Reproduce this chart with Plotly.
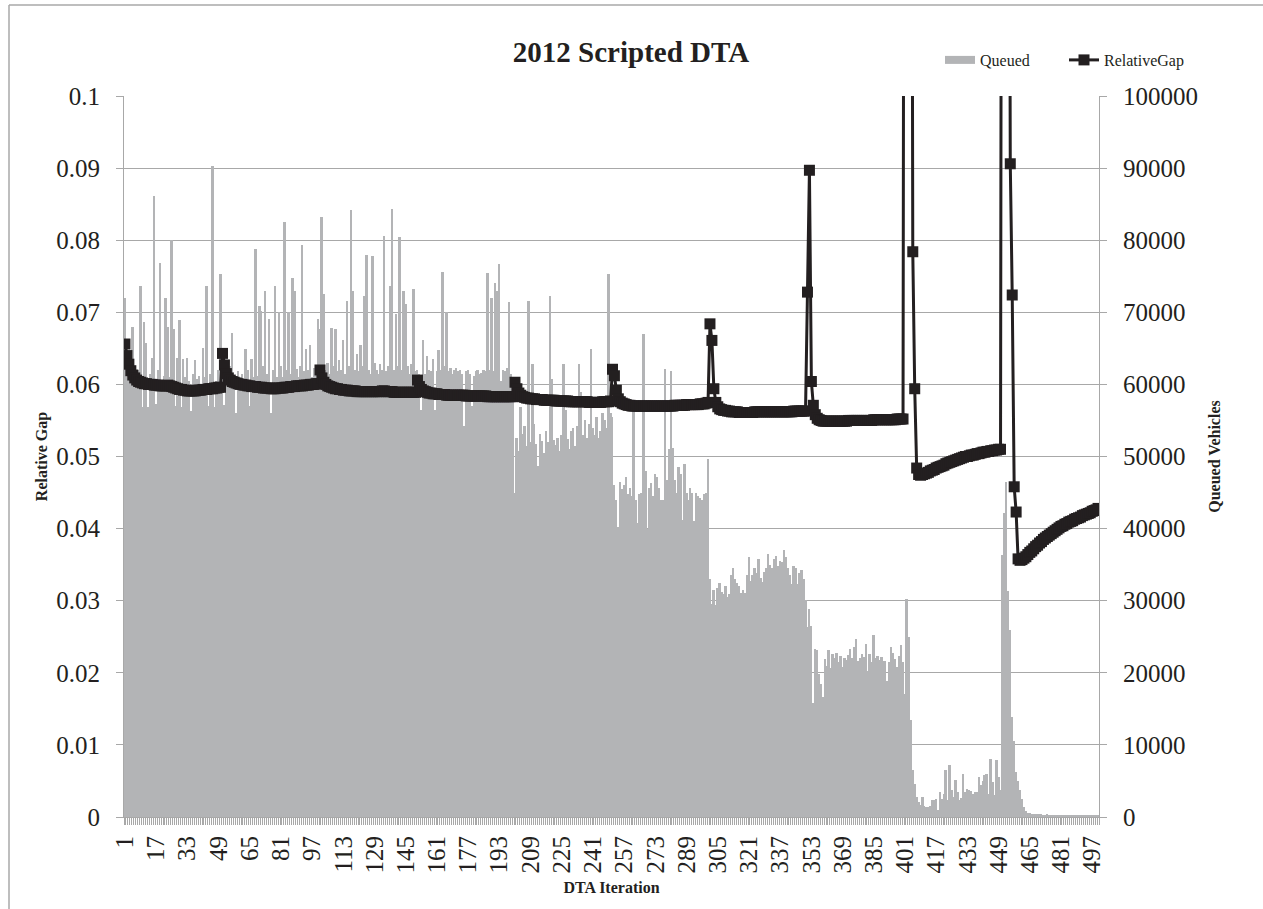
import plotly.graph_objects as go

# ---------------- data ----------------
iterations = list(range(1, 501))

queued = [
    72000, 63000, 61500, 62500, 68000, 61000, 60500, 62000, 73700, 56800,
    68700, 65800, 56900, 61500, 63700, 86200, 57300, 62000, 76900, 60500,
    61200, 72000, 67900, 61000, 80000, 67700, 57000, 63700, 68900, 56800,
    63500, 61000, 63700, 60500, 56300, 61500, 63400, 60800, 61200, 59800,
    65100, 61000, 73600, 57000, 61500, 90300, 56900, 60500, 62000, 75300,
    61000, 57200, 60500, 61800, 62500, 67100, 60000, 56100, 61900, 60500,
    61500, 60800, 64900, 62000, 57000, 63500, 61000, 78800, 61200, 70900,
    70200, 62500, 72900, 61500, 69100, 56000, 62000, 73700, 61000, 70000,
    62500, 61000, 82500, 62000, 70000, 61500, 74800, 73000, 62200, 61000,
    62500, 79300, 61800, 64900, 62000, 65400, 61000, 62300, 61500, 69100,
    67700, 83200, 72500, 62000, 63000, 61500, 67800, 62500, 67700, 61800,
    63400, 62000, 66100, 61500, 71500, 62500, 84200, 72900, 62000, 64200,
    61800, 65400, 62500, 72200, 78000, 62000, 61500, 77800, 63000, 62000,
    61500, 62800, 62000, 80600, 61800, 62500, 73700, 84300, 62000, 69700,
    62500, 80400, 62000, 72900, 71200, 62500, 61500, 62800, 73200, 61800,
    62000, 61500, 56500, 66100, 61500, 64000, 62000, 61800, 63500, 56500,
    61800, 64800, 62000, 75600, 62500, 70000, 61800, 62300, 61500, 62000,
    62300, 61800, 62000, 61500, 54300, 61800, 62000, 61500, 57000, 61200,
    61800, 62000, 61500, 61600, 62000, 61800, 75500, 62000, 72000, 61800,
    74000, 73000, 76700, 60500, 62000, 61800, 62300, 71400, 61500, 61000,
    45000, 52600, 50800, 56800, 53100, 54200, 51500, 71600, 52000, 62800,
    54500, 51800, 48700, 53100, 52200, 50500, 53500, 52000, 72300, 60700,
    52300, 51600, 52500, 50800, 53000, 62800, 56400, 52400, 51000, 53500,
    54000, 51500, 54200, 62800, 59000, 53000, 55000, 52500, 54500, 64900,
    54000, 53000, 55500, 52500, 53500, 56000, 55000, 54000, 75300, 56000,
    55500, 46000, 43900, 40200, 46500, 45500, 46000, 47200, 44800, 45700,
    44500, 56500, 43900, 40800, 44800, 45000, 67000, 48000, 40000, 45700,
    46300, 44500, 47600, 47200, 45700, 44000, 43900, 62100, 46700, 51000,
    61800, 51200, 46700, 45000, 48600, 47600, 41200, 49000, 45000, 44000,
    45700, 45000, 41000, 45000, 44500, 44300, 44000, 44800, 45000, 49700,
    33000, 29500, 31500, 29400, 31800, 32500, 31200, 30900, 32000, 30500,
    30900, 33500, 34600, 33000, 32400, 32000, 31000, 31500, 31000, 33500,
    36000, 32800, 33500, 34600, 33800, 35800, 33200, 32600, 34000, 34600,
    36500, 35000, 34500, 35800, 36200, 34800, 35500, 35300, 37100, 36000,
    34600, 33500, 32300, 34800, 34600, 32300, 33800, 34200, 33000, 30100,
    26300, 28800, 26500, 15800, 23300, 23100, 19900, 18500, 16600, 21900,
    21000, 23100, 20600, 22600, 22000, 22800, 21500, 22400, 20800, 22000,
    21800, 22500, 23300, 22000, 23600, 24700, 21600, 22000, 22600, 22200,
    24000, 20300, 22600, 21500, 25300, 22000, 22300, 21800, 22200, 21600,
    21700, 18900, 21500, 23600, 22800, 21900, 20800, 22400, 23800, 21500,
    17100, 30200, 24900, 13400, 6500, 4600, 2800, 2100, 1600, 2800,
    1500, 1400, 1400, 1500, 2300, 2400, 2500, 1000, 3500, 2500,
    3200, 6500, 2300, 7200, 3700, 2800, 5100, 3500, 2400, 2600,
    5900, 3500, 3900, 3800, 3600, 3200, 3400, 3400, 5500, 4400,
    5000, 5800, 6000, 3200, 8100, 4900, 3000, 7900, 5500, 3700,
    36300, 42100, 46400, 31400, 25900, 13900, 10600, 6200, 5000, 3700,
    2500, 1400, 800, 600, 500, 450, 400, 420, 380, 350,
    400, 330, 300, 350, 320, 300, 280, 320, 260, 300,
    250, 280, 300, 250, 230, 260, 240, 220, 250, 230,
    200, 240, 210, 200, 220, 190, 200, 180, 200, 190,
]

relative_gap = [
    0.0656, 0.0640, 0.0628, 0.0619, 0.0613, 0.0609, 0.0606, 0.0604, 0.0603, 0.0602,
    0.0601, 0.0601, 0.0600, 0.0600, 0.0600, 0.0599, 0.0599, 0.0599, 0.0598, 0.0598,
    0.0598, 0.0598, 0.0599, 0.0598, 0.0597, 0.0596, 0.0595, 0.0594, 0.0593, 0.0593,
    0.0592, 0.0592, 0.0591, 0.0591, 0.0591, 0.0591, 0.0591, 0.0592, 0.0592, 0.0592,
    0.0593, 0.0593, 0.0593, 0.0594, 0.0594, 0.0594, 0.0595, 0.0595, 0.0596, 0.0596,
    0.0643, 0.0627, 0.0615, 0.0609, 0.0606, 0.0604, 0.0603, 0.0602, 0.0601, 0.0600,
    0.0600, 0.0599, 0.0599, 0.0598, 0.0598, 0.0597, 0.0597, 0.0597, 0.0596, 0.0596,
    0.0596, 0.0595, 0.0595, 0.0595, 0.0595, 0.0594, 0.0594, 0.0594, 0.0595, 0.0595,
    0.0595, 0.0595, 0.0596, 0.0596, 0.0596, 0.0597, 0.0597, 0.0597, 0.0598, 0.0598,
    0.0598, 0.0598, 0.0599, 0.0599, 0.0599, 0.0600, 0.0600, 0.0600, 0.0601, 0.0601,
    0.0620, 0.0609, 0.0603, 0.0600, 0.0598, 0.0597, 0.0596, 0.0595, 0.0594, 0.0594,
    0.0593, 0.0593, 0.0592, 0.0592, 0.0592, 0.0591, 0.0591, 0.0591, 0.0591, 0.0590,
    0.0590, 0.0590, 0.0590, 0.0590, 0.0590, 0.0590, 0.0590, 0.0590, 0.0590, 0.0590,
    0.0590, 0.0590, 0.0591, 0.0591, 0.0590, 0.0590, 0.0590, 0.0590, 0.0589, 0.0589,
    0.0589, 0.0589, 0.0589, 0.0589, 0.0589, 0.0589, 0.0589, 0.0589, 0.0589, 0.0589,
    0.0606, 0.0597, 0.0593, 0.0591, 0.0590, 0.0589, 0.0588, 0.0588, 0.0587, 0.0587,
    0.0587, 0.0586, 0.0586, 0.0586, 0.0586, 0.0585, 0.0585, 0.0585, 0.0585, 0.0585,
    0.0585, 0.0585, 0.0585, 0.0585, 0.0585, 0.0584, 0.0584, 0.0584, 0.0584, 0.0584,
    0.0584, 0.0584, 0.0584, 0.0584, 0.0584, 0.0584, 0.0583, 0.0583, 0.0583, 0.0583,
    0.0583, 0.0583, 0.0583, 0.0583, 0.0583, 0.0583, 0.0583, 0.0583, 0.0583, 0.0583,
    0.0603, 0.0594, 0.0588, 0.0585, 0.0583, 0.0582, 0.0581, 0.0581, 0.0580, 0.0580,
    0.0580, 0.0579, 0.0579, 0.0579, 0.0579, 0.0578, 0.0578, 0.0578, 0.0578, 0.0578,
    0.0578, 0.0577, 0.0577, 0.0577, 0.0577, 0.0577, 0.0577, 0.0577, 0.0576, 0.0576,
    0.0576, 0.0576, 0.0576, 0.0576, 0.0576, 0.0576, 0.0576, 0.0576, 0.0575, 0.0575,
    0.0575, 0.0575, 0.0575, 0.0575, 0.0575, 0.0576, 0.0576, 0.0576, 0.0576, 0.0577,
    0.0621, 0.0612, 0.0592, 0.0580, 0.0576, 0.0574, 0.0573, 0.0572, 0.0571, 0.0571,
    0.0570, 0.0570, 0.0570, 0.0570, 0.0570, 0.0570, 0.0570, 0.0570, 0.0570, 0.0570,
    0.0570, 0.0570, 0.0570, 0.0570, 0.0570, 0.0570, 0.0570, 0.0570, 0.0570, 0.0570,
    0.0570, 0.0570, 0.0571, 0.0571, 0.0571, 0.0571, 0.0571, 0.0571, 0.0572, 0.0572,
    0.0572, 0.0572, 0.0572, 0.0572, 0.0572, 0.0573, 0.0573, 0.0573, 0.0574, 0.0575,
    0.0684, 0.0661, 0.0594, 0.0575, 0.0569, 0.0566, 0.0565, 0.0564, 0.0564, 0.0563,
    0.0563, 0.0562, 0.0562, 0.0562, 0.0562, 0.0561, 0.0561, 0.0561, 0.0561, 0.0561,
    0.0561, 0.0561, 0.0561, 0.0562, 0.0562, 0.0562, 0.0562, 0.0562, 0.0562, 0.0562,
    0.0562, 0.0562, 0.0562, 0.0562, 0.0562, 0.0562, 0.0562, 0.0562, 0.0562, 0.0562,
    0.0562, 0.0562, 0.0562, 0.0563, 0.0563, 0.0563, 0.0563, 0.0563, 0.0563, 0.0563,
    0.0728, 0.0897, 0.0604, 0.0571, 0.0558, 0.0553, 0.0551, 0.0550, 0.0549, 0.0549,
    0.0549, 0.0549, 0.0549, 0.0549, 0.0549, 0.0549, 0.0549, 0.0549, 0.0549, 0.0549,
    0.0549, 0.0550, 0.0550, 0.0550, 0.0550, 0.0550, 0.0550, 0.0550, 0.0550, 0.0550,
    0.0550, 0.0550, 0.0550, 0.0550, 0.0551, 0.0551, 0.0551, 0.0551, 0.0551, 0.0551,
    0.0551, 0.0551, 0.0551, 0.0551, 0.0551, 0.0551, 0.0552, 0.0552, 0.0552, 0.0552,
    0.2500, 0.4000, 0.3500, 0.2200, 0.0784, 0.0594, 0.0484, 0.0475, 0.0474, 0.0475,
    0.0476, 0.0477, 0.0478, 0.0480, 0.0481, 0.0482, 0.0484, 0.0485, 0.0486, 0.0487,
    0.0488, 0.0490, 0.0491, 0.0492, 0.0493, 0.0494, 0.0495, 0.0496, 0.0497, 0.0498,
    0.0499, 0.0500, 0.0500, 0.0501, 0.0502, 0.0502, 0.0503, 0.0504, 0.0504, 0.0505,
    0.0506, 0.0506, 0.0507, 0.0507, 0.0508, 0.0508, 0.0509, 0.0509, 0.0510, 0.0510,
    0.3000, 0.4500, 0.3800, 0.2000, 0.0906, 0.0724, 0.0458, 0.0423, 0.0358, 0.0356,
    0.0357, 0.0359, 0.0361, 0.0364, 0.0367, 0.0369, 0.0372, 0.0375, 0.0377, 0.0380,
    0.0382, 0.0385, 0.0387, 0.0389, 0.0391, 0.0393, 0.0395, 0.0397, 0.0399, 0.0401,
    0.0403, 0.0404, 0.0406, 0.0407, 0.0409, 0.0410, 0.0411, 0.0413, 0.0414, 0.0415,
    0.0416, 0.0418, 0.0419, 0.0420, 0.0421, 0.0422, 0.0424, 0.0425, 0.0426, 0.0428,
]

x_tick_values = [1, 17, 33, 49, 65, 81, 97, 113, 129, 145, 161, 177, 193, 209, 225,
                 241, 257, 273, 289, 305, 321, 337, 353, 369, 385, 401, 417, 433,
                 449, 465, 481, 497]
x_tick_labels = ["1", "17", "33", "49", "65", "81", "97", "113", "129", "145", "161",
                 "177", "193", "209", "225", "241", "257", "273", "289", "305", "321",
                 "337", "353", "369", "385", "401", "417", "433", "449", "465", "481",
                 "497"]
gap_ticks = [0, 0.01, 0.02, 0.03, 0.04, 0.05, 0.06, 0.07, 0.08, 0.09, 0.1]
gap_tick_labels = ["0", "0.01", "0.02", "0.03", "0.04", "0.05", "0.06", "0.07",
                   "0.08", "0.09", "0.1"]
queued_ticks = [0, 10000, 20000, 30000, 40000, 50000, 60000, 70000, 80000, 90000, 100000]
queued_tick_labels = ["0", "10000", "20000", "30000", "40000", "50000", "60000",
                      "70000", "80000", "90000", "100000"]

assert len(queued) == len(iterations) == len(relative_gap)

# ---------------- styling ----------------
FONT = "Liberation Serif"
TXT = "#231f20"
GRID = "#a8a8a8"
BAR = "#b3b4b6"

fig = go.Figure()
fig.add_trace(go.Bar(
    x=iterations, y=queued, name="Queued", yaxis="y",
    marker=dict(color=BAR, line=dict(width=0)),
    legendgroup="queued", showlegend=False,
))
# legend swatch for the bars (Excel shows a wide flat rectangle)
fig.add_trace(go.Scatter(
    x=[None], y=[None], name="Queued", yaxis="y", mode="lines",
    line=dict(color=BAR, width=8), legendgroup="queued", showlegend=True,
    hoverinfo="skip",
))
fig.add_trace(go.Scatter(
    x=iterations, y=relative_gap, name="RelativeGap", yaxis="y2",
    mode="lines+markers",
    line=dict(color=TXT, width=3),
    marker=dict(symbol="square", size=11, color=TXT),
))

# plot area in pixels: x 124..1099, y 96..817
L, R, T, B = 124, 1099, 96, 817
W, H = 1263, 909


def px_x(p):
    return (p - L) / (R - L)


def px_y(p):
    return (B - p) / (B - T)


fig.update_layout(
    width=W, height=H,
    margin=dict(l=L, r=W - R, t=T, b=H - B, pad=0),
    paper_bgcolor="white", plot_bgcolor="white",
    font=dict(family=FONT, color=TXT),
    bargap=0,
    title=dict(text="2012 Scripted DTA", x=px_x(631), xref="paper", xanchor="center",
               y=1 - 52 / H, yref="container", yanchor="middle",
               font=dict(family=FONT, size=29, color=TXT, weight="bold")),
    legend=dict(orientation="h", x=px_x(940), xanchor="left", y=px_y(60), yanchor="middle",
                font=dict(family=FONT, size=16, color=TXT), bgcolor="rgba(0,0,0,0)",
                itemwidth=30, entrywidth=79, entrywidthmode="pixels",
                tracegroupgap=0),
    xaxis=dict(
        range=[0.5, 500.5], tickmode="array", tickvals=x_tick_values, ticktext=x_tick_labels,
        tickangle=-90, tickfont=dict(family=FONT, size=25, color=TXT),
        ticks="", showgrid=False, zeroline=False,
        showline=True, linecolor=GRID, linewidth=1,
        ticklabelstandoff=8,
        minor=dict(tickmode="linear", tick0=0.5, dtick=1, ticks="outside", ticklen=7,
                   tickcolor=GRID, tickwidth=1, showgrid=False),
        title=dict(text="DTA Iteration", standoff=9,
                   font=dict(family=FONT, size=16, color=TXT, weight="bold")),
    ),
    yaxis=dict(
        side="right", range=[0, 100000], tickmode="array", tickvals=queued_ticks,
        ticktext=queued_tick_labels, tickfont=dict(family=FONT, size=25, color=TXT),
        ticks="outside", ticklen=7, tickcolor=GRID, ticklabelstandoff=11,
        showgrid=True, gridcolor=GRID, gridwidth=1, zeroline=False,
        showline=True, linecolor=GRID, linewidth=1,
        title=dict(text="Queued Vehicles", standoff=11,
                   font=dict(family=FONT, size=16, color=TXT, weight="bold")),
    ),
    yaxis2=dict(
        overlaying="y", side="left", anchor="x", range=[0, 0.1], tickmode="array",
        tickvals=gap_ticks, ticktext=gap_tick_labels,
        tickfont=dict(family=FONT, size=25, color=TXT),
        ticks="outside", ticklen=7, tickcolor=GRID, ticklabelstandoff=11,
        showgrid=False, zeroline=False,
        showline=True, linecolor=GRID, linewidth=1,
        title=dict(text="Relative Gap", standoff=4,
                   font=dict(family=FONT, size=16, color=TXT, weight="bold")),
    ),
    shapes=[
        dict(type="line", xref="paper", yref="paper",
             x0=px_x(9), x1=px_x(9), y0=px_y(912), y1=px_y(5),
             line=dict(color=GRID, width=1.5)),
        dict(type="line", xref="paper", yref="paper",
             x0=px_x(9), x1=px_x(1266), y0=px_y(5), y1=px_y(5),
             line=dict(color=GRID, width=1.5)),
    ],
)

fig.write_html("out.html",
               config={"displayModeBar": False},
               post_script="document.body.style.margin='0';document.body.style.overflow='hidden';")
